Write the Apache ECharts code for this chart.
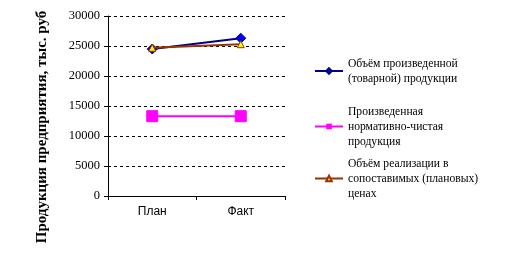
<!DOCTYPE html>
<html><head><meta charset="utf-8">
<script src="https://cdn.jsdelivr.net/npm/echarts@6/dist/echarts.min.js"></script>
<style>html,body{margin:0;padding:0;background:#fff}#c{width:505px;height:255px}</style>
</head><body><div id="c"></div>
<script>
const categories = ['План', 'Факт'];
const seriesNames = [
  'Объём произведенной\n(товарной) продукции',
  'Произведенная\nнормативно-чистая\nпродукция',
  'Объём реализации в\nсопоставимых (плановых)\nценах'
];
const producedValues = [24500, 26300];
const normativeValues = [13300, 13300];
const salesValues = [24700, 25300];
const yTicks = { min: 0, max: 30000, interval: 5000 };
const yAxisTitle = 'Продукция предприятия, тыс. руб';

const chart = echarts.init(document.getElementById('c'), null, {renderer: 'canvas'});
const legendBase = {
  orient: 'vertical', left: 314, itemWidth: 28, itemHeight: 7, itemGap: 0, padding: 0,
  textStyle: { fontFamily: 'Liberation Serif', fontSize: 11.6, color: '#000', lineHeight: 15 },
  selectedMode: false
};
chart.setOption({
  animation: false,
  grid: { left: 108, right: 220, top: 16, bottom: 59 },
  legend: [
    Object.assign({}, legendBase, { top: 56, data: [seriesNames[0]] }),
    Object.assign({}, legendBase, { top: 104, data: [seriesNames[1]] }),
    Object.assign({}, legendBase, { top: 156, data: [seriesNames[2]] })
  ],
  xAxis: {
    type: 'category', data: categories, boundaryGap: true,
    axisLine: { lineStyle: { color: '#000', width: 1 } },
    axisTick: { show: true, length: 4, alignWithLabel: false, lineStyle: { color: '#000' } },
    axisLabel: { fontFamily: 'Liberation Sans', fontSize: 12, color: '#000', margin: 10 }
  },
  yAxis: {
    type: 'value', min: yTicks.min, max: yTicks.max, interval: yTicks.interval,
    axisLine: { show: true, lineStyle: { color: '#000', width: 1 } },
    axisTick: { show: true, length: 4, lineStyle: { color: '#000' } },
    axisLabel: { fontFamily: 'Liberation Serif', fontSize: 12.5, color: '#000', margin: 8,
      formatter: v => String(v) },
    splitLine: { show: true, lineStyle: { color: '#000', type: [3, 3], width: 1 } }
  },
  graphic: [{
    type: 'text', x: 42, y: 127, rotation: Math.PI / 2,
    style: { text: yAxisTitle, fontFamily: 'Liberation Serif', fontWeight: 'bold', fontSize: 15,
      fill: '#000', textAlign: 'center', textVerticalAlign: 'middle' }
  }],
  series: [
    { name: seriesNames[0], type: 'line', data: producedValues, symbol: 'diamond', symbolSize: 10,
      lineStyle: { color: '#000080', width: 2 },
      itemStyle: { color: '#0000FF', borderColor: '#000080', borderWidth: 1 }, z: 3 },
    { name: seriesNames[1], type: 'line', data: normativeValues, symbol: 'rect', symbolSize: 11,
      lineStyle: { color: '#FF00FF', width: 2 },
      itemStyle: { color: '#FF00FF', borderColor: '#FF00FF' }, z: 2 },
    { name: seriesNames[2], type: 'line', data: salesValues, symbol: 'triangle', symbolSize: 7,
      lineStyle: { color: '#993300', width: 2 },
      itemStyle: { color: '#FFFF00', borderColor: '#993300', borderWidth: 1 }, z: 4 }
  ]
});
</script></body></html>
